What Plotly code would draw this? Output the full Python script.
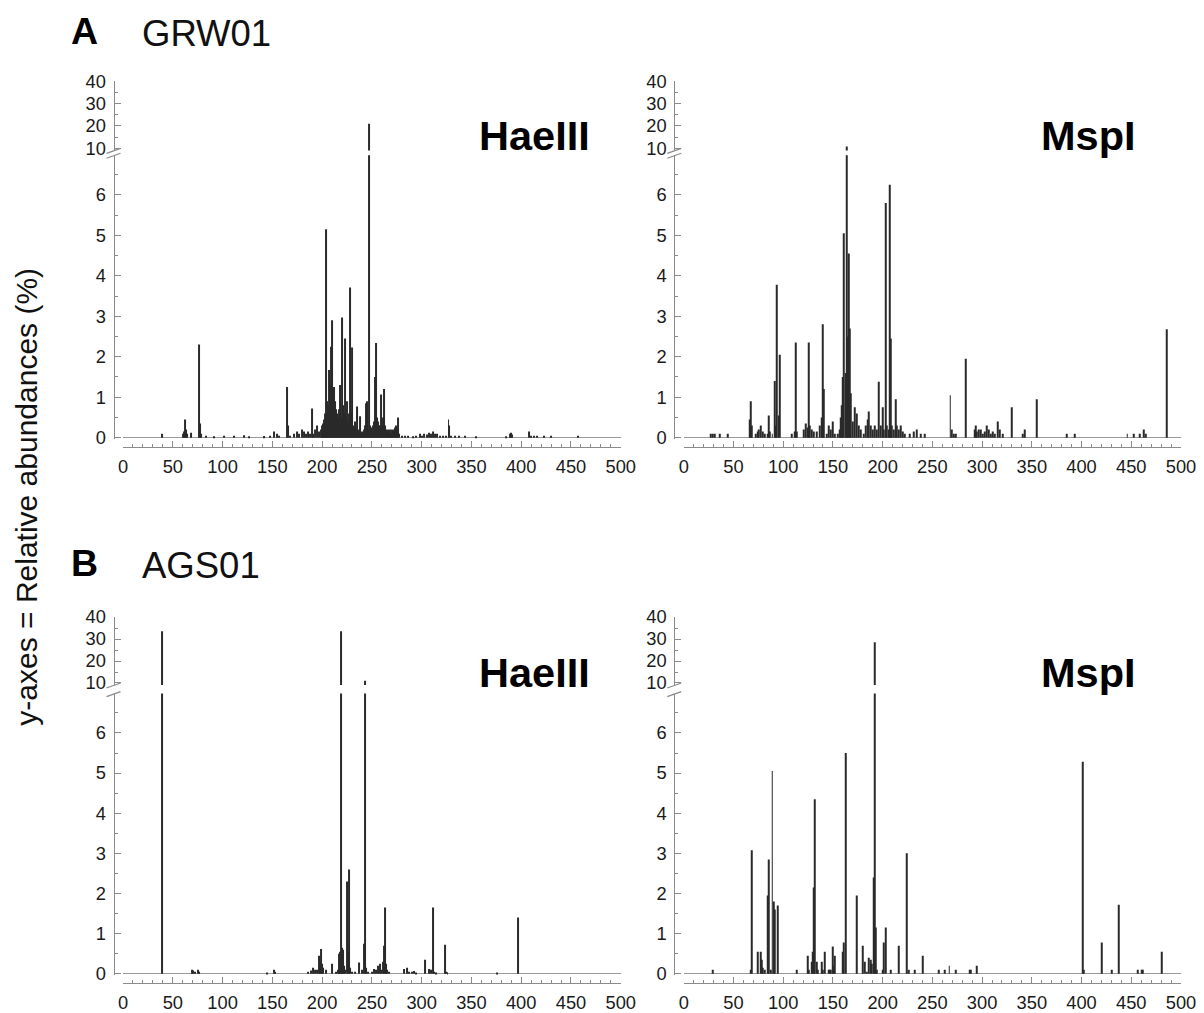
import plotly.graph_objects as go

# ---------------- data (fragment size in bp, relative abundance in %) ----------------
A_HAE_BP = [39, 60, 61, 62, 63, 64, 68, 76, 77, 78, 83, 91, 101, 112, 122, 127, 142, 148, 152, 155, 157,
            165, 166, 168, 172, 175, 177, 180, 182, 184, 186, 188, 190, 191, 193, 195, 197, 199,
            200, 201, 202, 203, 204, 205, 206, 207, 208, 209, 210, 211, 212, 213, 214, 215, 216, 217, 218, 219,
            220, 221, 222, 223, 224, 225, 226, 227, 228, 229, 230, 231, 232, 233, 234, 235, 236, 237, 238, 239,
            240, 241, 242, 243, 244, 245, 246, 247, 248, 249, 250, 251, 252, 253, 254, 255, 256, 257, 258, 259,
            260, 261, 262, 263, 264, 265, 266, 267, 268, 269, 270, 271, 272, 273, 274, 275, 276, 277,
            280, 283, 286, 291, 294, 298, 300, 302, 305, 307, 309, 311, 313, 315, 318, 321, 324, 327, 328, 330,
            334, 338, 344, 355, 385, 389, 390, 391, 408, 410, 413, 416, 423, 430, 457]
A_HAE_PCT = [0.1, 0.1, 0.15, 0.45, 0.2, 0.1, 0.12, 2.3, 0.35, 0.1, 0.05, 0.03, 0.05, 0.05, 0.06, 0.03, 0.04, 0.05, 0.15, 0.1, 0.05,
             1.25, 0.3, 0.05, 0.1, 0.15, 0.1, 0.2, 0.15, 0.1, 0.15, 0.1, 0.72, 0.1, 0.2, 0.3, 0.15, 0.2,
             0.3, 0.35, 0.45, 0.6, 5.15, 0.9, 0.8, 1.67, 1.3, 2.25, 2.9, 1.2, 1.25, 0.9, 0.7, 0.6, 0.5, 0.7, 1.3, 0.5,
             2.97, 0.8, 0.6, 2.45, 0.5, 0.9, 0.4, 0.6, 3.71, 0.6, 2.23, 0.3, 0.25, 0.4, 0.2, 0.77, 0.15, 0.2, 0.53, 0.1,
             0.15, 0.1, 0.2, 0.3, 0.85, 0.9, 0.2, 21.0, 0.3, 0.25, 0.2, 0.3, 0.4, 1.5, 2.34, 0.5, 0.4, 0.3, 0.3, 1.07,
             0.3, 0.5, 1.2, 0.3, 0.2, 0.15, 0.2, 0.15, 0.2, 0.1, 0.2, 0.15, 0.2, 0.25, 0.3, 0.2, 0.5, 0.1,
             0.05, 0.05, 0.05, 0.03, 0.05, 0.1, 0.05, 0.1, 0.08, 0.12, 0.1, 0.15, 0.1, 0.1, 0.05, 0.05, 0.05, 0.45, 0.3, 0.05,
             0.05, 0.05, 0.05, 0.03, 0.03, 0.1, 0.12, 0.08, 0.15, 0.05, 0.05, 0.05, 0.05, 0.05, 0.05]

A_MSP_BP = [27, 29, 31, 36, 44, 66, 67, 68, 72, 74, 75, 77, 79, 81, 84, 85, 86, 89, 92, 93, 94, 96, 97,
            109, 112, 113, 114, 121, 123, 125, 126, 127, 129, 131, 134, 137, 139, 140, 141, 144, 146, 148, 150, 152, 155,
            157, 158, 159, 160, 161, 163, 164, 165, 166, 167, 168, 170, 172, 174, 176, 178,
            181, 183, 185, 186, 188, 190, 192, 194, 196, 198, 200, 201, 203, 204, 206, 207, 208, 209, 211, 213, 214,
            216, 218, 220, 222, 227, 231, 234, 238, 242, 268, 270, 272, 274, 284,
            293, 294, 295, 297, 299, 301, 303, 305, 307, 309, 311, 313, 316, 318, 321,
            330, 341, 343, 355, 385, 393, 446, 453, 459, 463, 465, 486]
A_MSP_PCT = [0.1, 0.1, 0.1, 0.1, 0.1, 0.45, 0.9, 0.3, 0.1, 0.15, 0.2, 0.3, 0.15, 0.1, 0.1, 0.55, 0.15, 0.1, 1.4, 0.3, 3.78, 0.55, 2.05,
             0.1, 0.15, 2.35, 0.15, 0.2, 0.35, 0.25, 2.35, 0.3, 0.2, 0.15, 0.15, 0.3, 0.5, 2.8, 1.2, 0.1, 0.3, 0.2, 0.4, 0.1, 0.1,
             0.2, 0.5, 0.8, 1.5, 5.05, 1.6, 10.8, 2.5, 4.55, 2.7, 1.1, 0.4, 0.75, 0.6, 0.3, 0.2,
             0.1, 0.3, 0.45, 0.65, 0.3, 0.2, 0.3, 0.2, 1.38, 0.3, 0.75, 0.2, 5.8, 0.3, 0.2, 6.25, 2.45, 0.3, 0.2, 0.95, 0.3,
             0.2, 0.3, 0.15, 0.1, 0.1, 0.15, 0.2, 0.1, 0.1, 1.05, 0.2, 0.1, 0.1, 1.95,
             0.2, 0.3, 0.15, 0.2, 0.2, 0.1, 0.15, 0.3, 0.2, 0.1, 0.15, 0.1, 0.4, 0.2, 0.1,
             0.75, 0.1, 0.2, 0.95, 0.1, 0.1, 0.1, 0.1, 0.1, 0.2, 0.1, 2.68]

B_HAE_BP = [39, 69, 70, 72, 75, 76, 145, 152, 153, 186, 189, 191, 193, 195, 197, 198, 199, 200, 201, 204, 210,
            214, 216, 217, 218, 219, 220, 221, 222, 223, 225, 226, 227, 228, 230, 233, 237, 240, 242, 243, 244, 246,
            250, 252, 254, 256, 258, 259, 261, 262, 263, 264, 265, 267,
            282, 285, 287, 290, 292, 294, 303, 307, 309, 311, 312, 314, 323, 324, 326, 376, 397]
B_HAE_PCT = [33.5, 0.1, 0.08, 0.05, 0.1, 0.05, 0.03, 0.1, 0.05, 0.05, 0.08, 0.15, 0.1, 0.1, 0.45, 0.3, 0.62, 0.25, 0.15, 0.1, 0.25,
             0.05, 0.1, 0.5, 0.55, 33.5, 0.65, 0.6, 0.2, 0.1, 2.3, 0.55, 2.6, 0.15, 0.05, 0.05, 0.28, 0.1, 0.75, 11.0, 0.15, 0.05,
             0.05, 0.12, 0.1, 0.2, 0.25, 0.1, 0.3, 0.7, 1.65, 0.25, 0.1, 0.05,
             0.12, 0.15, 0.05, 0.05, 0.07, 0.03, 0.35, 0.12, 0.1, 1.65, 0.05, 0.03, 0.72, 0.05, 0.04, 0.03, 1.4]

B_MSP_BP = [29, 67, 68, 74, 77, 78, 79, 81, 84, 85, 87, 89, 91, 92, 95,
            114, 125, 126, 129, 130, 131, 132, 134, 135, 139, 140, 142, 146, 147, 148, 150, 151, 152,
            160, 161, 163, 174, 180, 182, 184, 186, 188, 189, 191, 192, 193, 194, 200, 201, 203, 208, 216,
            224, 226, 232, 240, 256, 262, 267, 274, 288, 289, 295, 401, 402, 420, 430, 437, 457, 461, 462, 481]
B_MSP_PCT = [0.1, 0.1, 3.08, 0.55, 0.55, 0.35, 0.15, 0.1, 1.95, 2.85, 0.1, 5.05, 1.8, 1.6, 1.7,
             0.1, 0.45, 0.1, 0.3, 0.55, 2.15, 4.35, 0.3, 0.1, 0.3, 0.1, 0.55, 0.1, 0.1, 0.1, 0.68, 0.2, 0.45,
             0.55, 0.78, 5.5, 1.95, 0.7, 0.3, 0.05, 0.4, 0.35, 0.25, 2.4, 28.5, 1.15, 0.1, 0.1, 0.78, 1.15, 0.1, 0.7,
             3.0, 0.1, 0.1, 0.45, 0.1, 0.1, 0.2, 0.1, 0.1, 0.1, 0.2, 5.28, 0.1, 0.78, 0.1, 1.72, 0.1, 0.1, 0.1, 0.55]

X_TICKS = [0, 50, 100, 150, 200, 250, 300, 350, 400, 450, 500]
Y_LOW_TICKS = [0, 1, 2, 3, 4, 5, 6]
Y_HIGH_TICKS = [10, 20, 30, 40]
ENZYMES = ["HaeIII", "MspI"]
SAMPLES = [("A", "GRW01"), ("B", "AGS01")]

# ---------------- layout geometry ----------------
# target positions are given in screenshot pixels; the page shows the figure
# slightly offset and scaled, which OX/OY/SX/SY compensate.
W, H = 1204, 1013
OX, OY, SX, SY = 12.5, 18.5, 0.983, 0.981
ROWS = [  # zero px, px per unit (low), 10-level px, px per unit (high), x-axis line px
    dict(zero=437.5, ppu=40.5, ten=148.0, ppu_hi=2.243, xline=447.0, title_y=31, label_y=135),
    dict(zero=974.0, ppu=40.17, ten=683.0, ppu_hi=2.2, xline=983.0, title_y=563, label_y=672),
]
COLS = [  # px of x=0, px of x=500, y-axis line px, enzyme label right edge
    dict(x0=122.5, x1=620.0, yline=113.0, lab_r=591),
    dict(x0=683.0, x1=1180.0, yline=673.5, lab_r=1137),
]
LOW_RANGE = [-0.04, 6.98]
HIGH_RANGE = [9.1, 40.0]
AX_COLOR = "#8a8a8a"
BAR_COLOR = "#2a2a2a"
FONT = "Liberation Sans, Arial, sans-serif"


def fx(px):
    return ((px - OX) / SX) / W


def fy(py):
    return 1 - ((py - OY) / SY) / H


DATA = {(0, 0): (A_HAE_BP, A_HAE_PCT), (0, 1): (A_MSP_BP, A_MSP_PCT),
        (1, 0): (B_HAE_BP, B_HAE_PCT), (1, 1): (B_MSP_BP, B_MSP_PCT)}

fig = go.Figure()
layout = {}
shapes = []
annotations = []

panel = 0
for r, row in enumerate(ROWS):
    for c, col in enumerate(COLS):
        bp, pct = DATA[(r, c)]
        xi = panel + 1
        ylo = 2 * panel + 1
        yhi = 2 * panel + 2
        xname = "xaxis" if xi == 1 else f"xaxis{xi}"
        ylo_name = "yaxis" if ylo == 1 else f"yaxis{ylo}"
        yhi_name = f"yaxis{yhi}"
        xref = "x" if xi == 1 else f"x{xi}"
        ylo_ref = "y" if ylo == 1 else f"y{ylo}"
        yhi_ref = f"y{yhi}"

        lo_bottom = row["zero"] - LOW_RANGE[0] * row["ppu"]
        lo_top = row["zero"] - LOW_RANGE[1] * row["ppu"]
        hi_bottom = row["ten"] - (HIGH_RANGE[0] - 10) * row["ppu_hi"]
        hi_top = row["ten"] - (HIGH_RANGE[1] - 10) * row["ppu_hi"]

        tickfont = dict(family=FONT, size=18.3, color="#1a1a1a")
        layout[xname] = dict(
            domain=[fx(col["x0"]), fx(col["x1"])], range=[X_TICKS[0], X_TICKS[-1]],
            anchor="free", position=fy(row["xline"]),
            tickmode="array", tickvals=X_TICKS, ticktext=[str(t) for t in X_TICKS],
            ticks="inside", ticklen=6, tickcolor=AX_COLOR, tickwidth=1,
            minor=dict(dtick=10, tick0=0, ticks="inside", ticklen=3, tickcolor=AX_COLOR, tickwidth=1, showgrid=False),
            showline=True, linecolor=AX_COLOR, linewidth=1, ticklabelstandoff=3,
            showgrid=False, zeroline=False, tickfont=tickfont, fixedrange=True,
        )
        layout[ylo_name] = dict(
            domain=[fy(lo_bottom), fy(lo_top)], range=LOW_RANGE,
            anchor="free", position=fx(col["yline"]),
            tickmode="array", tickvals=Y_LOW_TICKS, ticktext=[str(t) for t in Y_LOW_TICKS],
            ticks="inside", ticklen=6, tickcolor=AX_COLOR, tickwidth=1,
            minor=dict(dtick=0.5, tick0=0, ticks="inside", ticklen=3, tickcolor=AX_COLOR, tickwidth=1, showgrid=False),
            showline=True, linecolor=AX_COLOR, linewidth=1, ticklabelstandoff=4,
            showgrid=False, zeroline=True, zerolinecolor="#9a9a9a", zerolinewidth=1,
            tickfont=tickfont, fixedrange=True,
        )
        layout[yhi_name] = dict(
            domain=[fy(hi_bottom), fy(hi_top)], range=HIGH_RANGE,
            anchor="free", position=fx(col["yline"]),
            tickmode="array", tickvals=Y_HIGH_TICKS, ticktext=[str(t) for t in Y_HIGH_TICKS],
            ticks="inside", ticklen=6, tickcolor=AX_COLOR, tickwidth=1,
            minor=dict(dtick=5, tick0=0, ticks="inside", ticklen=3, tickcolor=AX_COLOR, tickwidth=1, showgrid=False),
            showline=True, linecolor=AX_COLOR, linewidth=1, ticklabelstandoff=4,
            showgrid=False, zeroline=False, tickfont=tickfont, fixedrange=True,
        )

        for yref_ in (ylo_ref, yhi_ref):
            fig.add_trace(go.Bar(
                x=bp, y=pct, width=1.0, xaxis=xref, yaxis=yref_,
                marker=dict(color=BAR_COLOR, line=dict(width=0)),
                showlegend=False, hoverinfo="skip",
            ))

        # axis break marks "//"
        for cy in (hi_bottom + 0.5, lo_top + 0.5):
            shapes.append(dict(type="line", xref="paper", yref="paper",
                               x0=fx(col["yline"] - 7), y0=fy(cy + 2.5),
                               x1=fx(col["yline"] + 7), y1=fy(cy - 2.5),
                               line=dict(color=AX_COLOR, width=1.2)))

        annotations.append(dict(text=f"<b>{ENZYMES[c]}</b>", xref="paper", yref="paper",
                                x=fx(col["lab_r"]), y=fy(row["label_y"]), xanchor="right", yanchor="middle",
                                showarrow=False, font=dict(family=FONT, size=41.5, color="#000")))
        panel += 1

    letter, sample = SAMPLES[r]
    annotations.append(dict(text=f"<b>{letter}</b>", xref="paper", yref="paper",
                            x=fx(84), y=fy(row["title_y"]), xanchor="center", yanchor="middle",
                            showarrow=False, font=dict(family=FONT, size=37.5, color="#000")))
    annotations.append(dict(text=sample, xref="paper", yref="paper",
                            x=fx(139), y=fy(row["title_y"] + 2), xanchor="left", yanchor="middle",
                            showarrow=False, font=dict(family=FONT, size=36.5, color="#111")))

annotations.append(dict(text="y-axes = Relative abundances (%)", xref="paper", yref="paper",
                        x=fx(26), y=fy(497), xanchor="center", yanchor="middle", textangle=-90,
                        showarrow=False, font=dict(family=FONT, size=30, color="#111")))

fig.update_layout(
    width=W, height=H, margin=dict(l=0, r=0, t=0, b=0),
    paper_bgcolor="white", plot_bgcolor="rgba(0,0,0,0)",
    barmode="overlay", hovermode=False, showlegend=False,
    shapes=shapes, annotations=annotations,
    **layout,
)

fig.write_html("out.html")
